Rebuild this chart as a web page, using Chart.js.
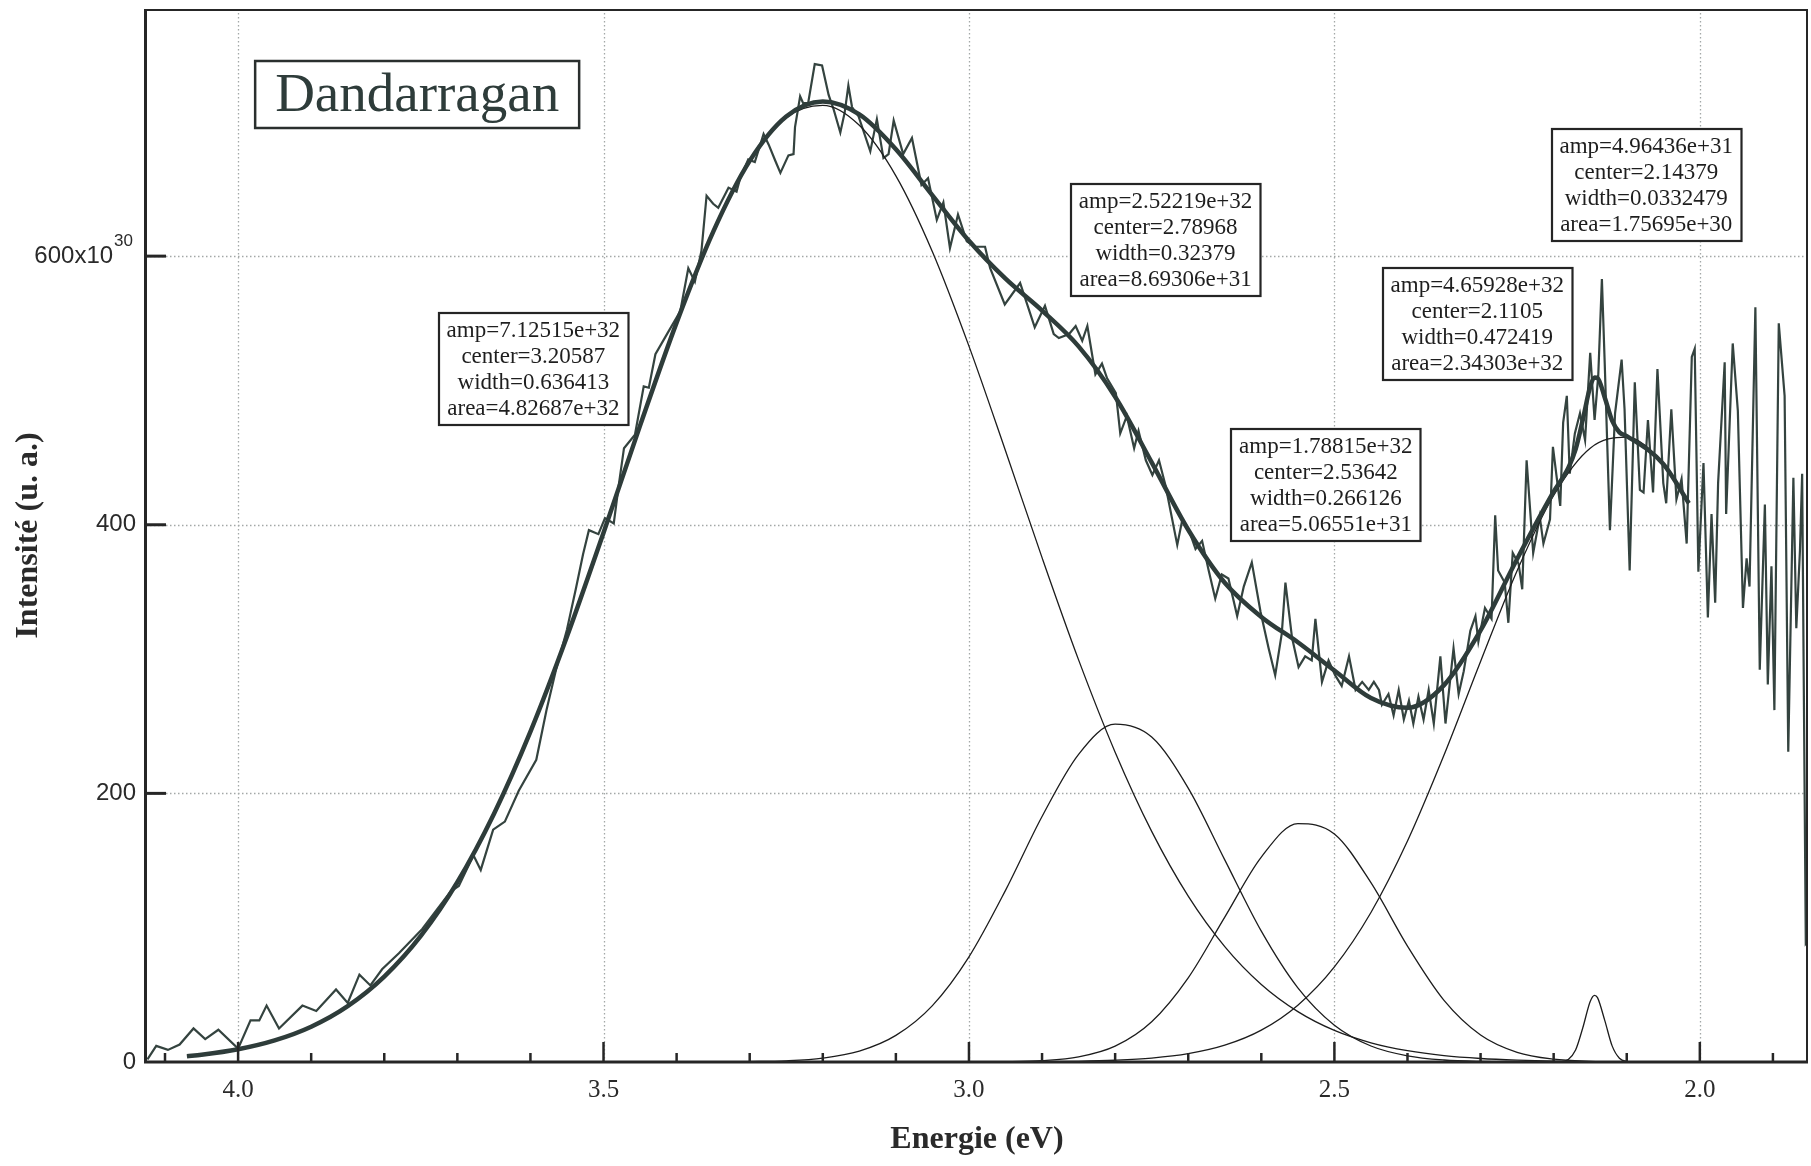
<!DOCTYPE html>
<html>
<head>
<meta charset="utf-8">
<script src="https://cdn.jsdelivr.net/npm/chart.js@4.4.1/dist/chart.umd.min.js"></script>
<style>
  html, body { margin: 0; padding: 0; background: #fff; }
  #wrap { width: 1811px; height: 1166px; }
</style>
</head>
<body>
<div id="wrap"><canvas id="spectre" width="1811" height="1166"></canvas></div>
<script>
// axes
const xMin = 1.852, xMax = 4.126;
const yMin = 0, yMax = 784;
const xMajorTicks = [4.0, 3.5, 3.0, 2.5, 2.0];
const xMinorTicks = [4.1, 3.9, 3.8, 3.7, 3.6, 3.4, 3.3, 3.2, 3.1, 2.9, 2.8, 2.7, 2.6, 2.4, 2.3, 2.2, 2.1, 1.9];
const yMajorTicks = [0, 200, 400, 600];

// spectre brut
const rawEnergy = [4.124, 4.112, 4.096, 4.080, 4.061, 4.045, 4.027, 4.000, 3.983, 3.971, 3.961, 3.944, 3.912, 3.893, 3.866, 3.850, 3.834, 3.819, 3.803, 3.780,
  3.748, 3.709, 3.698, 3.678, 3.668, 3.651, 3.635, 3.616, 3.592, 3.578, 3.565, 3.550, 3.538, 3.528, 3.520, 3.507, 3.498, 3.486, 3.479, 3.472,
  3.457, 3.445, 3.438, 3.429, 3.411, 3.395, 3.384, 3.375, 3.366, 3.359, 3.350, 3.343, 3.329, 3.318, 3.313, 3.302, 3.293, 3.281, 3.274, 3.265,
  3.258, 3.247, 3.240, 3.238, 3.231, 3.227, 3.220, 3.211, 3.201, 3.192, 3.185, 3.176, 3.170, 3.165, 3.160, 3.151, 3.135, 3.126, 3.117, 3.110,
  3.103, 3.090, 3.078, 3.065, 3.056, 3.044, 3.035, 3.026, 3.015, 3.003, 2.992, 2.978, 2.971, 2.951, 2.930, 2.910, 2.896, 2.884, 2.877, 2.863,
  2.854, 2.845, 2.838, 2.827, 2.818, 2.811, 2.799, 2.793, 2.784, 2.774, 2.768, 2.758, 2.749, 2.740, 2.731, 2.715, 2.708, 2.699, 2.690, 2.681,
  2.672, 2.663, 2.654, 2.645, 2.633, 2.624, 2.613, 2.601, 2.590, 2.581, 2.572, 2.567, 2.558, 2.549, 2.540, 2.531, 2.526, 2.517, 2.508, 2.499,
  2.490, 2.480, 2.471, 2.462, 2.453, 2.446, 2.439, 2.435, 2.426, 2.419, 2.412, 2.405, 2.398, 2.392, 2.385, 2.378, 2.371, 2.364, 2.355, 2.348,
  2.337, 2.330, 2.323, 2.314, 2.307, 2.303, 2.294, 2.285, 2.280, 2.276, 2.267, 2.262, 2.256, 2.248, 2.243, 2.237, 2.228, 2.219, 2.214, 2.205,
  2.201, 2.191, 2.187, 2.182, 2.178, 2.171, 2.164, 2.157, 2.150, 2.144, 2.139, 2.134, 2.130, 2.123, 2.116, 2.107, 2.103, 2.096, 2.089, 2.082,
  2.077, 2.071, 2.064, 2.058, 2.050, 2.046, 2.039, 2.032, 2.025, 2.018, 2.011, 2.007, 2.002, 1.995, 1.989, 1.984, 1.979, 1.975, 1.966, 1.964,
  1.955, 1.948, 1.941, 1.936, 1.932, 1.924, 1.918, 1.911, 1.907, 1.902, 1.898, 1.892, 1.884, 1.879, 1.872, 1.868, 1.863, 1.860, 1.855, 1.852];
const rawIntensity = [2, 12, 9, 13, 25, 17, 24, 10, 31, 31, 42, 25, 42, 38, 54, 44, 65, 57, 69, 81,
  99, 127, 131, 154, 143, 173, 179, 202, 225, 262, 292, 322, 352, 378, 396, 393, 405, 401, 430, 457,
  467, 503, 502, 527, 544, 559, 591, 581, 604, 645, 639, 636, 651, 648, 658, 672, 670, 691, 683, 671,
  662, 675, 676, 696, 719, 714, 714, 743, 742, 720, 709, 692, 707, 727, 711, 704, 678, 702, 673, 676,
  701, 676, 688, 653, 658, 627, 640, 606, 631, 611, 607, 607, 591, 564, 580, 547, 563, 542, 539, 542,
  548, 537, 548, 512, 520, 509, 498, 468, 481, 457, 470, 448, 437, 448, 429, 385, 404, 396, 382, 388,
  366, 345, 363, 360, 332, 354, 372, 335, 308, 288, 319, 357, 316, 294, 302, 299, 330, 283, 299, 288,
  280, 302, 277, 283, 277, 283, 277, 266, 274, 258, 277, 255, 269, 252, 272, 255, 277, 252, 302, 252,
  308, 274, 291, 321, 332, 313, 338, 330, 407, 366, 357, 327, 379, 371, 352, 448, 379, 406, 386, 404,
  458, 414, 476, 496, 438, 468, 483, 463, 528, 478, 511, 583, 518, 396, 483, 523, 486, 366, 506, 426,
  424, 478, 424, 516, 431, 416, 486, 419, 434, 386, 525, 531, 365, 446, 331, 408, 342, 431, 521, 408,
  535, 485, 338, 375, 354, 562, 292, 415, 281, 369, 262, 550, 496, 231, 435, 323, 381, 438, 88, 90];

// ajustement total
const fitEnergy = [4.07, 4.05, 4.00, 3.95, 3.90, 3.85, 3.80, 3.75, 3.70, 3.65, 3.60, 3.55, 3.50, 3.45, 3.40, 3.35, 3.30, 3.25, 3.20, 3.15,
  3.10, 3.05, 3.00, 2.95, 2.90, 2.85, 2.80, 2.75, 2.70, 2.65, 2.60, 2.55, 2.50, 2.45, 2.40, 2.35, 2.30, 2.25, 2.20, 2.18,
  2.17, 2.16, 2.15, 2.144, 2.14, 2.13, 2.12, 2.11, 2.10, 2.05, 2.015];
const fitIntensity = [4.3, 5.4, 9.5, 16.1, 26.3, 41.6, 63.6, 93.9, 133.9, 184.7, 246.0, 316.8, 394.1, 473.8, 550.5, 618.1, 670.9, 704.0, 715.2, 705.5,
  679.6, 645.3, 611.4, 583.2, 559.5, 532.8, 495.3, 446.5, 396.3, 356.8, 331.4, 312.5, 291.5, 271.0, 263.7, 280.6, 321.3, 374.5, 424.6, 442.3,
  456.1, 478.5, 502.9, 509.7, 509.3, 494.6, 477.5, 468.8, 466.0, 445.3, 416.0];

// composantes gaussiennes
const compEnergy = [4.07, 4.05, 4.00, 3.95, 3.90, 3.85, 3.80, 3.75, 3.70, 3.65, 3.60, 3.55, 3.50, 3.45, 3.40, 3.35, 3.30, 3.25, 3.20, 3.15,
  3.10, 3.05, 3.00, 2.95, 2.90, 2.85, 2.80, 2.75, 2.70, 2.65, 2.60, 2.55, 2.50, 2.45, 2.40, 2.35, 2.30, 2.25, 2.20, 2.15,
  2.10, 2.05, 2.015];
const comp1 = [4.3, 5.4, 9.5, 16.1, 26.3, 41.6, 63.6, 93.9, 133.9, 184.7, 246.0, 316.8, 394.1, 473.8, 550.5, 618.1, 670.6, 703.1, 712.3, 697.4,
  659.8, 603.3, 533.0, 455.1, 375.5, 299.4, 230.7, 171.7, 123.5, 85.9, 57.7, 37.5, 23.5, 14.3, 8.4, 4.7, 2.6, 1.4, 0.7, 0.3,
  0.2, 0.1, 0];
const comp2 = [0, 0, 0, 0, 0, 0, 0, 0, 0, 0, 0, 0, 0, 0, 0, 0, 0.3, 0.9, 2.9, 8.1,
  19.8, 42.0, 78.3, 127.8, 182.8, 229.1, 251.5, 241.9, 203.9, 150.5, 97.4, 55.2, 27.4, 11.9, 4.6, 1.5, 0.4, 0.1, 0, 0,
  0, 0, 0];
const comp3 = [0, 0, 0, 0, 0, 0, 0, 0, 0, 0, 0, 0, 0, 0, 0, 0, 0, 0, 0, 0,
  0, 0, 0, 0.2, 1.0, 3.8, 11.8, 30.0, 62.7, 107.9, 152.6, 177.5, 169.8, 133.5, 86.3, 45.9, 20.1, 7.2, 2.1, 0.5,
  0.1, 0, 0];
const comp4 = [0, 0, 0, 0, 0, 0, 0, 0, 0, 0, 0, 0, 0, 0, 0, 0, 0, 0, 0, 0,
  0, 0, 0, 0.1, 0.2, 0.5, 1.3, 2.9, 6.2, 12.5, 23.7, 42.3, 70.8, 111.3, 164.5, 228.5, 298.2, 365.8, 421.8, 457.0,
  465.3, 445.2, 416.0];
const peak5Energy = [2.25, 2.20, 2.19, 2.18, 2.17, 2.16, 2.15, 2.144, 2.14, 2.13, 2.12, 2.11, 2.10, 2.09, 2.05, 2.015];
const peak5 = [0, 0, 0.2, 1.9, 8.9, 25.7, 45.1, 49.6, 47.9, 30.8, 12.0, 2.8, 0.4, 0, 0, 0];

// etiquettes
const sampleName = 'Dandarragan';
const peakLabels = [
  ['amp=7.12515e+32', 'center=3.20587', 'width=0.636413', 'area=4.82687e+32'],
  ['amp=2.52219e+32', 'center=2.78968', 'width=0.32379', 'area=8.69306e+31'],
  ['amp=4.65928e+32', 'center=2.1105', 'width=0.472419', 'area=2.34303e+32'],
  ['amp=1.78815e+32', 'center=2.53642', 'width=0.266126', 'area=5.06551e+31'],
  ['amp=4.96436e+31', 'center=2.14379', 'width=0.0332479', 'area=1.75695e+30']
];
// ancrage des boites : [energie du centre, intensite du haut]
const peakLabelAnchors = [[3.596, 558], [2.731, 654], [2.3045, 591], [2.5117, 471], [2.0733, 695]];
const titleAnchor = [3.755, 745];

const ink = '#2e3c3a';
const serif = '"Liberation Serif", "DejaVu Serif", serif';
const sans = '"Liberation Sans", "DejaVu Sans", sans-serif';

function pts(xs, ys) {
  return xs.map((e, i) => ({x: e, y: ys[i]}));
}

function drawBox(ctx, lines, cx, top, fontPx, lineH, padX, padY, family) {
  ctx.font = fontPx + 'px ' + family;
  const w = Math.max(...lines.map(l => ctx.measureText(l).width)) + 2 * padX;
  const h = lines.length * lineH + 2 * padY;
  const left = Math.round(cx - w / 2);
  ctx.fillStyle = '#fff';
  ctx.fillRect(left, top, w, h);
  ctx.lineWidth = 2.2;
  ctx.strokeStyle = '#252525';
  ctx.strokeRect(left, top, w, h);
  ctx.fillStyle = '#1e1e1e';
  ctx.textAlign = 'center';
  ctx.textBaseline = 'middle';
  lines.forEach((l, i) => ctx.fillText(l, cx, top + padY + lineH * (i + 0.5) + 1));
}

const decor = {
  id: 'decor',
  beforeDatasetsDraw(chart) {
    const {ctx, chartArea: a, scales: {x, y}} = chart;
    ctx.save();
    ctx.strokeStyle = '#a3a8a7';
    ctx.lineWidth = 1.3;
    ctx.setLineDash([1.5, 2.5]);
    xMajorTicks.forEach(v => {
      const px = Math.round(x.getPixelForValue(v)) + 0.5;
      ctx.beginPath(); ctx.moveTo(px, a.top); ctx.lineTo(px, a.bottom); ctx.stroke();
    });
    yMajorTicks.filter(v => v > 0).forEach(v => {
      const py = Math.round(y.getPixelForValue(v)) + 0.5;
      ctx.beginPath(); ctx.moveTo(a.left, py); ctx.lineTo(a.right, py); ctx.stroke();
    });
    ctx.restore();
  },
  afterDatasetsDraw(chart) {
    const {ctx, chartArea: a, scales: {x, y}} = chart;
    ctx.save();
    ctx.setLineDash([]);
    ctx.strokeStyle = '#262626';
    // cadre
    ctx.lineWidth = 2;
    ctx.beginPath(); ctx.moveTo(a.left, a.top + 1); ctx.lineTo(a.right - 1, a.top + 1); ctx.lineTo(a.right - 1, a.bottom); ctx.stroke();
    ctx.lineWidth = 3;
    ctx.beginPath(); ctx.moveTo(a.left - 0.5, a.top); ctx.lineTo(a.left - 0.5, a.bottom); ctx.stroke();
    ctx.beginPath(); ctx.moveTo(a.left - 2, a.bottom); ctx.lineTo(a.right, a.bottom); ctx.stroke();
    // graduations vers l'interieur
    ctx.lineWidth = 2.5;
    xMajorTicks.forEach(v => {
      const px = x.getPixelForValue(v);
      ctx.beginPath(); ctx.moveTo(px, a.bottom); ctx.lineTo(px, a.bottom - 20); ctx.stroke();
    });
    xMinorTicks.forEach(v => {
      const px = x.getPixelForValue(v);
      ctx.beginPath(); ctx.moveTo(px, a.bottom); ctx.lineTo(px, a.bottom - 9); ctx.stroke();
    });
    ctx.lineWidth = 3;
    yMajorTicks.filter(v => v > 0).forEach(v => {
      const py = y.getPixelForValue(v);
      ctx.beginPath(); ctx.moveTo(a.left, py); ctx.lineTo(a.left + 20, py); ctx.stroke();
    });
    // etiquette 600x10^30
    const py6 = y.getPixelForValue(600);
    ctx.fillStyle = '#2a2a2a';
    ctx.textBaseline = 'middle';
    ctx.textAlign = 'left';
    ctx.font = '24px ' + sans;
    const wMain = ctx.measureText('600x10').width;
    ctx.font = '17px ' + sans;
    const wSup = ctx.measureText('30').width;
    const x0 = a.left - 14 - wMain - wSup;
    ctx.font = '24px ' + sans;
    ctx.fillText('600x10', x0, py6);
    ctx.font = '17px ' + sans;
    ctx.fillText('30', x0 + wMain + 1, py6 - 15);
    // boites des composantes
    peakLabels.forEach((lines, i) => {
      const [e, v] = peakLabelAnchors[i];
      drawBox(ctx, lines, x.getPixelForValue(e), Math.round(y.getPixelForValue(v)), 23, 26, 8, 4, serif);
    });
    // titre
    ctx.font = '55px ' + serif;
    const tw = ctx.measureText(sampleName).width + 40;
    const tcx = x.getPixelForValue(titleAnchor[0]);
    const tt = Math.round(y.getPixelForValue(titleAnchor[1]));
    ctx.fillStyle = '#fff';
    ctx.fillRect(tcx - tw / 2, tt, tw, 67);
    ctx.lineWidth = 2.5;
    ctx.strokeStyle = '#2a2f2e';
    ctx.strokeRect(tcx - tw / 2, tt, tw, 67);
    ctx.fillStyle = ink;
    ctx.textAlign = 'center';
    ctx.textBaseline = 'middle';
    ctx.fillText(sampleName, tcx, tt + 36);
    ctx.restore();
  }
};

const compStyle = {borderColor: '#1c1c1c', borderWidth: 1.3, pointRadius: 0, cubicInterpolationMode: 'monotone', fill: false};

new Chart(document.getElementById('spectre'), {
  type: 'line',
  data: {
    datasets: [
      {label: 'ajustement', data: pts(fitEnergy, fitIntensity), borderColor: ink, borderWidth: 4.5,
        pointRadius: 0, cubicInterpolationMode: 'monotone', order: 0},
      {label: 'gauss 1', data: pts(compEnergy, comp1), ...compStyle, order: 1},
      {label: 'gauss 2', data: pts(compEnergy, comp2), ...compStyle, order: 1},
      {label: 'gauss 3', data: pts(compEnergy, comp3), ...compStyle, order: 1},
      {label: 'gauss 4', data: pts(compEnergy, comp4), ...compStyle, order: 1},
      {label: 'gauss 5', data: pts(peak5Energy, peak5), ...compStyle, order: 1},
      {label: 'spectre', data: pts(rawEnergy, rawIntensity), borderColor: '#34433f', borderWidth: 2.2,
        pointRadius: 0, tension: 0, order: 2}
    ]
  },
  options: {
    responsive: false,
    animation: false,
    devicePixelRatio: 1,
    layout: {padding: {top: 9, right: 3, left: 0, bottom: 0}},
    plugins: {legend: {display: false}, tooltip: {enabled: false}},
    scales: {
      x: {
        type: 'linear', reverse: true, min: xMin, max: xMax,
        afterBuildTicks: s => { s.ticks = xMajorTicks.map(v => ({value: v})); },
        afterFit: s => { s.height = 104; s.paddingLeft = 0; s.paddingRight = 0; },
        grid: {display: false, drawTicks: false},
        border: {display: false},
        ticks: {callback: v => Number(v).toFixed(1), font: {family: serif, size: 25}, color: '#2a2a2a', padding: 13,
          maxRotation: 0, autoSkip: false},
        title: {display: true, text: 'Energie (eV)', font: {family: serif, size: 32, weight: 'bold'}, color: '#2a2a2a',
          padding: {top: 0, bottom: 7}}
      },
      y: {
        type: 'linear', min: yMin, max: yMax,
        afterBuildTicks: s => { s.ticks = yMajorTicks.map(v => ({value: v})); },
        afterFit: s => { s.width = 146; s.paddingTop = 0; s.paddingBottom = 0; },
        grid: {display: false, drawTicks: false},
        border: {display: false},
        ticks: {callback: v => (v === 600 ? '' : String(v)), font: {family: sans, size: 24}, color: '#2a2a2a', padding: 10},
        title: {display: true, text: 'Intensité (u. a.)', font: {family: serif, size: 32, weight: 'bold'}, color: '#2a2a2a',
          padding: {top: 10, bottom: 0}}
      }
    }
  },
  plugins: [decor]
});
</script>
</body>
</html>
